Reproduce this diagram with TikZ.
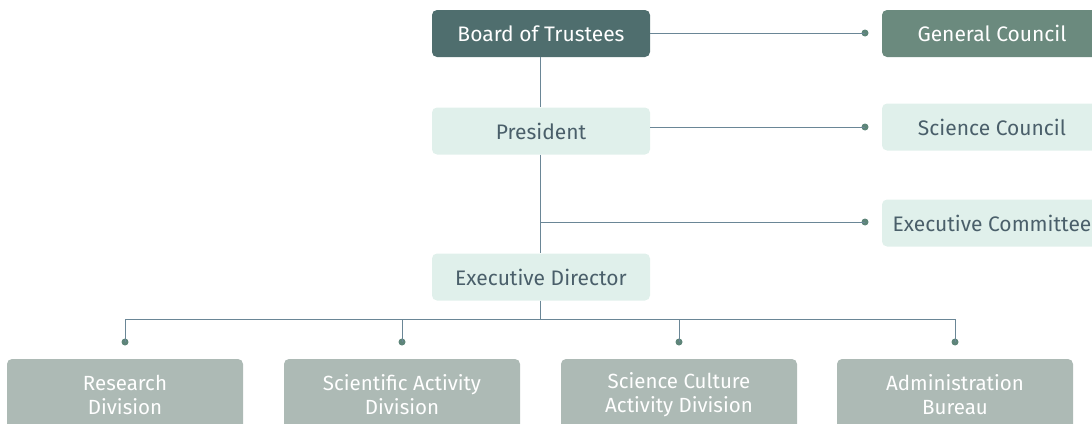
\documentclass[tikz,border=0pt]{standalone}
\usepackage{fontspec}
\setmainfont{Fira Sans}
\definecolor{cDark}{HTML}{4F6E6E}
\definecolor{cMid}{HTML}{6B8A7E}
\definecolor{cLight}{HTML}{E0F0EB}
\definecolor{cGrey}{HTML}{ADBAB5}
\definecolor{cText}{HTML}{4A5F6A}
\definecolor{cLine}{HTML}{6A8696}
\definecolor{cDot}{HTML}{5E8579}
\begin{document}
\begin{tikzpicture}[x=1pt,y=-1pt,
  box/.style={rounded corners=5pt, minimum width=218pt, minimum height=47pt, inner sep=0pt, font=\fontsize{21}{24}\selectfont},
  darkbox/.style={box, fill=cDark, text=white},
  midbox/.style={box, fill=cMid, text=white, minimum width=220pt},
  lightbox/.style={box, fill=cLight, text=cText},
  sidebox/.style={lightbox, minimum width=220pt},
  divbox/.style={rounded corners=5pt, minimum width=236pt, minimum height=72pt, inner sep=0pt, fill=cGrey, text=white, align=center, font=\fontsize{20.5}{24}\selectfont},
  conn/.style={draw=cLine, line width=1pt},
  dot/.style={circle, fill=cDot, inner sep=0pt, minimum size=7pt}
]
\useasboundingbox (0,0) rectangle (1092,423);
\clip (0,0) rectangle (1092,423);
% main column
\node[darkbox] (bot) at (541,33.5) {Board of Trustees};
\node[lightbox] (pres) at (541,131) {President};
\node[lightbox] (exd) at (541,277) {Executive Director};
% side boxes
\node[midbox] (gc) at (992,33.5) {General Council};
\node[sidebox] (sc) at (992,127) {Science Council};
\node[sidebox] (ec) at (992,223) {Executive Committee};
% division boxes
\node[divbox] (d1) at (125,395) {Research\\Division};
\node[divbox] (d2) at (402,395) {Scientific Activity\\Division};
\node[divbox] (d3) at (679,395) {Science Culture\\Activity Division};
\node[divbox] (d4) at (955,395) {Administration\\Bureau};
% dots
\node[dot] (gcd) at (865,33) {};
\node[dot] (scd) at (865,127) {};
\node[dot] (ecd) at (865,222) {};
\node[dot] (d1d) at (125,342) {};
\node[dot] (d2d) at (402,342) {};
\node[dot] (d3d) at (679,342) {};
\node[dot] (d4d) at (955,342) {};
\coordinate (trunk) at (540,319);
% connectors
\draw[conn] (bot.south -| trunk) -- (pres.north -| trunk);
\draw[conn] (pres.south -| trunk) -- (exd.north -| trunk);
\draw[conn] (exd.south -| trunk) -- (trunk);
\draw[conn] (bot.east |- gcd) -- (gcd.center);
\draw[conn] (pres.east |- scd) -- (scd.center);
\draw[conn] (trunk |- ecd) -- (ecd.center);
\draw[conn] (d1d.center) -- (d1d |- trunk) -- (d4d |- trunk) -- (d4d.center);
\draw[conn] (d2d |- trunk) -- (d2d.center);
\draw[conn] (d3d |- trunk) -- (d3d.center);
\end{tikzpicture}
\end{document}
